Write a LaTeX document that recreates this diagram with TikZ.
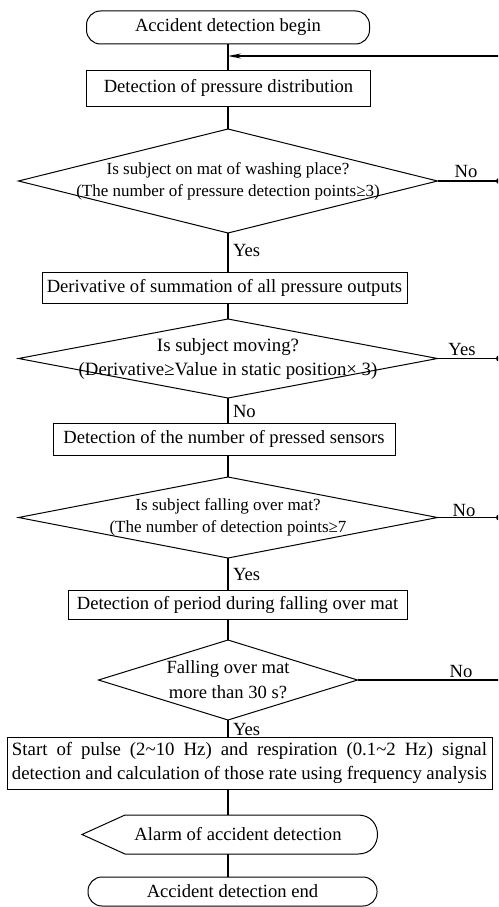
\documentclass[tikz,border=0pt]{standalone}
\usepackage{fontspec}
\setmainfont{Liberation Serif}
\usetikzlibrary{shapes.geometric,arrows.meta}
\begin{document}
\begin{tikzpicture}[x=1pt,y=-1pt,
 every node/.style={inner sep=0pt, outer sep=0pt},
 box/.style={draw, line width=1pt, rectangle, font=\fontsize{18.6}{23}\selectfont},
 term/.style={draw, line width=1pt, rectangle, rounded corners=14pt, font=\fontsize{18.6}{23}\selectfont},
 dia/.style={draw, line width=1pt, diamond, inner sep=0pt},
 dtext/.style={align=center, font=\fontsize{17}{22}\selectfont},
 lbl/.style={font=\fontsize{18.6}{23}\selectfont},
 axis/.style={line width=1.7pt},
 side/.style={line width=1.1pt},
 dot/.style={circle, fill, minimum size=6pt}
]
\useasboundingbox (0,0) rectangle (498,907);
\clip (0,0) rectangle (498,907);

\node[term, minimum width=283pt, minimum height=33pt] (start) at (228,27.5) {Accident detection begin};
\node[box, minimum width=284pt, minimum height=36pt] (b1) at (228.5,88) {Detection of pressure distribution};

\node[dia, minimum width=419pt, minimum height=104pt] (d1) at (228,181) {};
\node[dtext] (d1t) at (d1.center) {Is subject on mat of washing place?\\(The number of pressure detection points≥3)};

\node[box, minimum width=365pt, minimum height=31pt] (b2) at (224.5,287.5) {Derivative of summation of all pressure outputs};

\node[dia, minimum width=419pt, minimum height=79pt] (d2) at (228,358.5) {};
\node[dtext, font=\fontsize{18.8}{24}\selectfont] (d2t) at (d2.center) {Is subject moving?\\(Derivative≥Value in static position× 3)};

\node[box, minimum width=342pt, minimum height=32pt] (b3) at (224,439) {Detection of the number of pressed sensors};

\node[dia, minimum width=419pt, minimum height=81pt] (d3) at (228,517.5) {};
\node[dtext] (d3t) at (d3.center) {Is subject falling over mat?\\(The number of detection points≥7};

\node[box, minimum width=339pt, minimum height=29pt] (b4) at (237.5,604.5) {Detection of period during falling over mat};

\node[dia, minimum width=259pt, minimum height=80pt] (d4) at (228,680) {};
\node[dtext, font=\fontsize{18.6}{25}\selectfont] (d4t) at (d4.center) {Falling over mat\\more than 30 s?};

\node[box, minimum width=485pt, minimum height=52pt, align=center, font=\fontsize{18.8}{24}\selectfont] (b5) at (249.5,763)
 {\makebox[475pt][s]{Start of pulse (2\textasciitilde 10 Hz) and respiration (0.1\textasciitilde 2 Hz) signal}\\
  \makebox[475pt][s]{detection and calculation of those rate using frequency analysis}};

\node[minimum width=298pt, minimum height=39pt, font=\fontsize{18.6}{23}\selectfont] (alarm) at (231,834.5) {\hspace*{14pt}Alarm of accident detection};
\draw[line width=1pt] (alarm.west) -- ([xshift=43pt]alarm.north west) -- ([xshift=-22pt]alarm.north east)
  .. controls ([xshift=4pt]alarm.north east) and ([xshift=4pt]alarm.south east) .. ([xshift=-22pt]alarm.south east)
  -- ([xshift=43pt]alarm.south west) -- cycle;

\node[term, minimum width=289pt, minimum height=29pt] (end) at (232.5,891.5) {Accident detection end};

% main axis
\draw[axis] (start.south -| d1.north) -- (b1.north -| d1.north);
\draw[axis] (b1.south -| d1.north) -- (d1.north);
\draw[axis] (d1.south) -- (b2.north -| d1.south);
\draw[axis] (b2.south -| d2.north) -- (d2.north);
\draw[axis] (d2.south) -- (b3.north -| d2.south);
\draw[axis] (b3.south -| d3.north) -- (d3.north);
\draw[axis] (d3.south) -- (b4.north -| d3.south);
\draw[axis] (b4.south -| d4.north) -- (d4.north);
\draw[axis] (d4.south) -- (b5.north -| d4.south);
\draw[axis] (b5.south -| d4.south) -- (alarm.north -| d4.south);
\draw[axis] (alarm.south -| d4.south) -- (end.north -| d4.south);

% labels below diamonds
\node[lbl, anchor=west] (y1) at (233,250) {Yes};
\node[lbl, anchor=west] (n2) at (233,411) {No};
\node[lbl, anchor=west] (y3) at (233,574) {Yes};
\node[lbl, anchor=west] (y4) at (233,729) {Yes};

% right branches
\coordinate (r1) at (499,181);
\coordinate (r2) at (499,358.5);
\coordinate (r3) at (499,517.5);
\coordinate (r4) at (502,680);
\coordinate (rtop) at (502,56);
\draw[side] (d1.east) -- (r1);
\draw[side] (d2.east) -- (r2);
\draw[side] (d3.east) -- (r3);
\draw[line width=1.8pt] (d4.east) -- (r4);
\draw[side] (r4) -- (rtop);
\draw[side,-{Stealth[length=13pt,width=5pt]}] (rtop) -- (rtop -| d1.north);
\node[dot] (k1) at (r1) {};
\node[dot] (k2) at (r2) {};
\node[dot] (k3) at (r3) {};

\node[lbl] (n1) at (466,171) {No};
\node[lbl] (y2) at (462,349) {Yes};
\node[lbl] (n3) at (464,510) {No};
\node[lbl] (n4) at (461,671) {No};
\end{tikzpicture}
\end{document}
